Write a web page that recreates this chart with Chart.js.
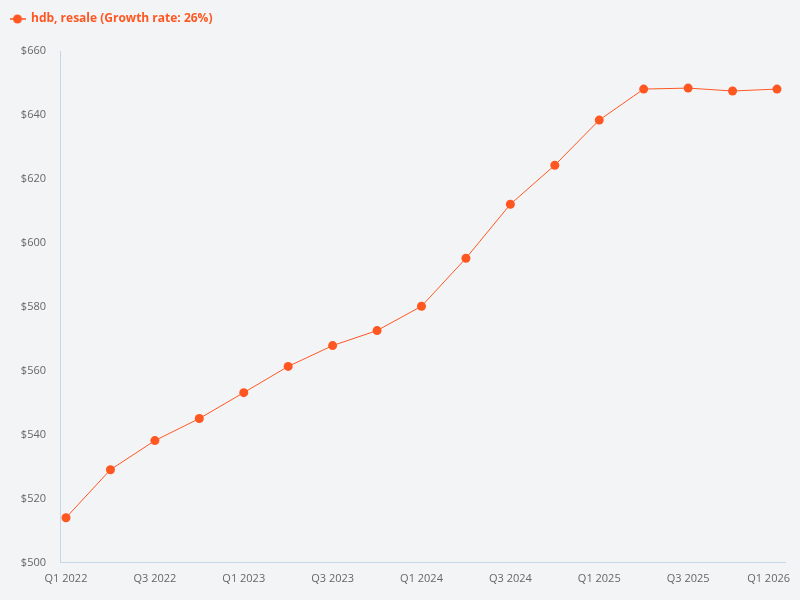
<!DOCTYPE html>
<html>
<head>
<meta charset="utf-8">
<script src="https://cdn.jsdelivr.net/npm/chart.js@4"></script>
<style>
html,body{margin:0;padding:0;background:#f3f4f6;}
#wrap{width:800px;height:600px;position:relative;}
</style>
</head>
<body>
<div id="wrap"><canvas id="c" width="800" height="600"></canvas></div>
<script>
const categories = ["Q1 2022","Q2 2022","Q3 2022","Q4 2022","Q1 2023","Q2 2023","Q3 2023","Q4 2023","Q1 2024","Q2 2024","Q3 2024","Q4 2024","Q1 2025","Q2 2025","Q3 2025","Q4 2025","Q1 2026"];
const resaleValues = [514.1,529.1,538.2,545.1,553.2,561.4,567.9,572.6,580.2,595.2,612.1,624.3,638.4,648.1,648.4,647.5,648.1];
const seriesName = "hdb, resale (Growth rate: 26%)";
const yTicks = [500,520,540,560,580,600,620,640,660];

const COLOR = '#ff5722';

function legendIcon(){
  const cv = document.createElement('canvas');
  cv.width = 16; cv.height = 10;
  const g = cv.getContext('2d');
  g.strokeStyle = COLOR; g.lineWidth = 1.5;
  g.beginPath(); g.moveTo(0,5); g.lineTo(16,5); g.stroke();
  g.fillStyle = COLOR;
  g.beginPath(); g.arc(8,5,4.5,0,Math.PI*2); g.fill();
  return cv;
}
const icon = legendIcon();

const points = resaleValues.map((v,i)=>({x:i,y:v}));

const legendSpacing = {
  id: 'legendSpacing',
  beforeInit(chart){
    const fit = chart.legend.fit;
    chart.legend.fit = function(){ fit.call(this); this.height += 16; };
  }
};

const lastLabelInside = {
  id: 'lastLabelInside',
  afterLayout(chart){
    const s = chart.scales.x;
    const items = s.getLabelItems(chart.chartArea);
    if (items && items.length) {
      const last = items[items.length-1];
      last.options.textAlign = 'right';
      last.options.translation = [s.right + 5, last.options.translation[1]];
    }
  }
};

new Chart(document.getElementById('c'), {
  type: 'line',
  data: {
    datasets: [{
      label: seriesName,
      data: points,
      borderColor: COLOR,
      backgroundColor: COLOR,
      borderWidth: 1,
      pointRadius: 4.5,
      pointBackgroundColor: COLOR,
      pointBorderWidth: 0,
      tension: 0
    }]
  },
  plugins: [legendSpacing, lastLabelInside],
  options: {
    responsive: false,
    animation: false,
    layout: {padding: {left: 0, right: 15, top: 3, bottom: 14}},
    plugins: {
      legend: {
        align: 'start',
        labels: {
          font: {family: 'Open Sans', size: 12, weight: 'bold'},
          color: COLOR,
          usePointStyle: true,
          pointStyleWidth: 15,
          padding: 10,
          generateLabels: (chart) => chart.data.datasets.map((ds,i)=>({
            text: ds.label, fillStyle: COLOR, strokeStyle: COLOR, fontColor: COLOR,
            pointStyle: icon, datasetIndex: i, hidden: false, lineWidth: 0
          }))
        }
      },
      tooltip: {enabled: false}
    },
    scales: {
      x: {
        type: 'linear',
        min: -0.135,
        max: 16.18,
        grid: {display: false},
        border: {display: true, color: '#c9d6e6'},
        ticks: {
          includeBounds: false,
          stepSize: 2,
          autoSkip: false,
          maxRotation: 0,
          padding: 1,
          color: '#666',
          font: {family: 'Open Sans', size: 11},
          callback: (v) => categories[v]
        }
      },
      y: {
        min: yTicks[0],
        max: yTicks[yTicks.length-1],
        grid: {display: false},
        border: {display: true, color: '#c9d6e6'},
        afterBuildTicks: (s) => { s.ticks = yTicks.map(v=>({value:v})); },
        afterFit: (s) => { s.width = 60; },
        ticks: {
          color: '#666',
          font: {family: 'Open Sans', size: 11},
          padding: 6,
          callback: (v) => '$' + v
        }
      }
    }
  }
});
</script>
</body>
</html>
